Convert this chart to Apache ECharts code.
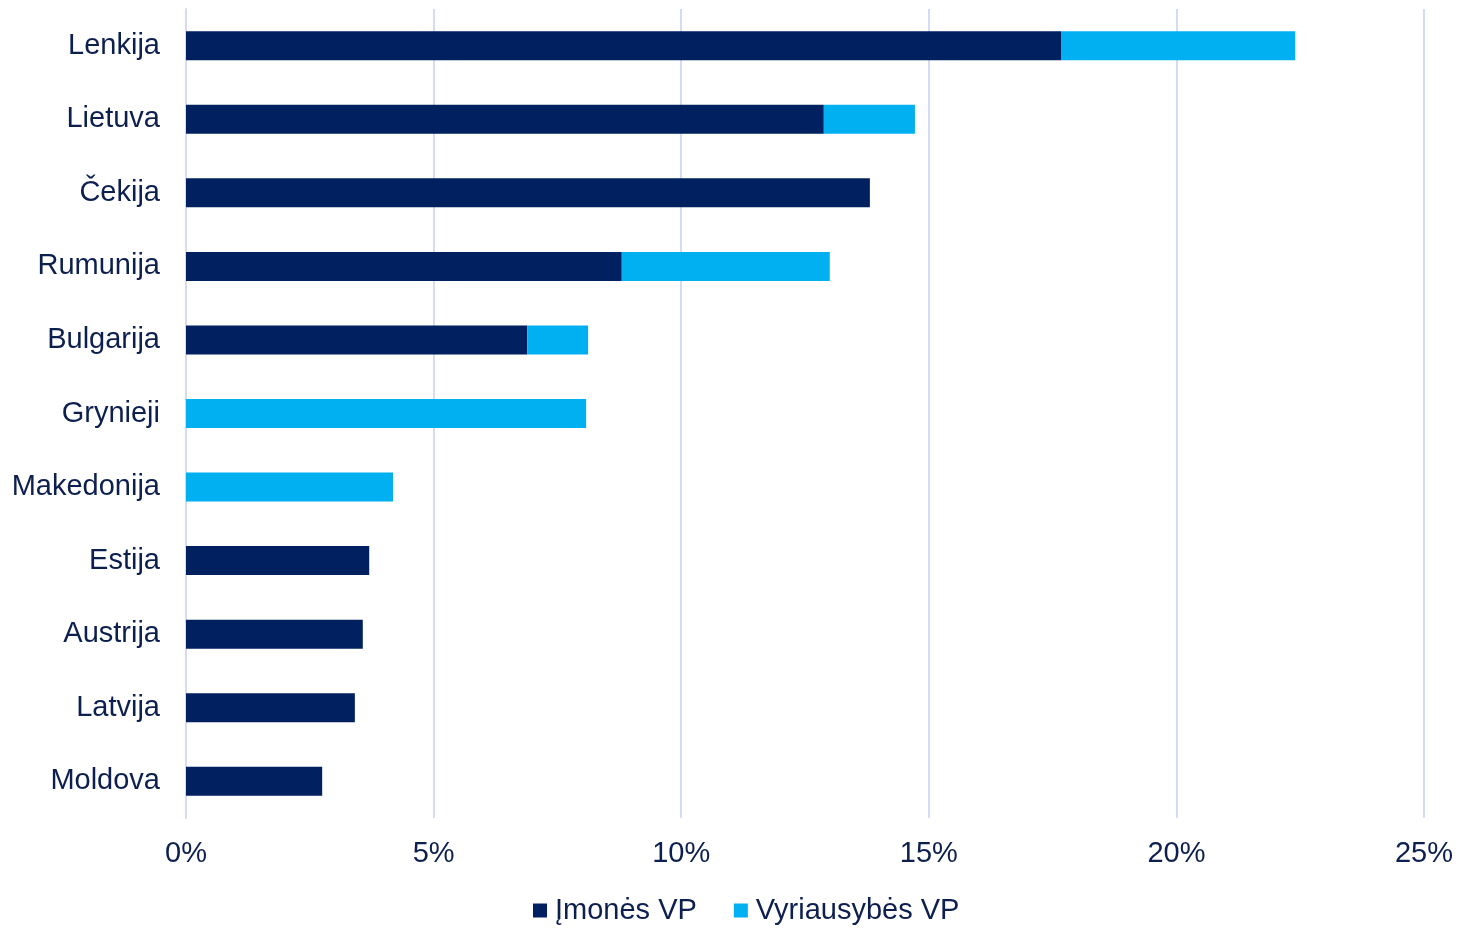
<!DOCTYPE html>
<html>
<head>
<meta charset="utf-8">
<script src="https://cdn.jsdelivr.net/npm/echarts@6/dist/echarts.min.js"></script>
<style>
  html, body { margin: 0; padding: 0; background: #fff; }
  #chart { width: 1461px; height: 930px; }
</style>
</head>
<body>
<div id="chart"></div>
<script>
// šalys (iš viršaus į apačią)
const countries = ['Lenkija', 'Lietuva', 'Čekija', 'Rumunija', 'Bulgarija', 'Grynieji', 'Makedonija', 'Estija', 'Austrija', 'Latvija', 'Moldova'];
// Įmonės VP, %
const corporate = [17.67, 12.88, 13.81, 8.80, 6.89, 0, 0, 3.70, 3.57, 3.41, 2.75];
// Vyriausybės VP, %
const government = [4.73, 1.84, 0, 4.20, 1.23, 8.08, 4.18, 0, 0, 0, 0];
const tickLabels = ['0%', '5%', '10%', '15%', '20%', '25%'];

const textColor = '#0c1f4f';
const gridColor = '#d3dcf4';
const font = 'Liberation Sans, Arial, sans-serif';

const chart = echarts.init(document.getElementById('chart'));
chart.setOption({
  animation: false,
  grid: { left: 186, right: 37, top: 9, bottom: 112, containLabel: false },
  legend: {
    bottom: 0,
    left: 528,
    itemWidth: 14,
    itemHeight: 14,
    itemGap: 37,
    icon: 'rect',
    textStyle: { fontFamily: font, fontSize: 29, color: textColor, padding: [0, 0, 0, 3] },
    data: ['Įmonės VP', 'Vyriausybės VP']
  },
  xAxis: {
    type: 'value',
    min: 0,
    max: 25,
    interval: 5,
    axisLine: { show: false },
    axisTick: { show: false },
    splitLine: { lineStyle: { color: gridColor, width: 2 } },
    axisLabel: {
      margin: 21,
      fontFamily: font,
      fontSize: 29,
      color: textColor,
      formatter: v => tickLabels[v / 5]
    }
  },
  yAxis: {
    type: 'category',
    inverse: true,
    data: countries,
    axisTick: { show: false },
    axisLine: { show: true, lineStyle: { color: gridColor, width: 2 } },
    axisLabel: {
      margin: 26,
      fontFamily: font,
      fontSize: 29,
      color: textColor
    }
  },
  series: [
    {
      name: 'Įmonės VP',
      type: 'bar',
      stack: 'total',
      barWidth: 29,
      itemStyle: { color: '#002060' },
      data: corporate
    },
    {
      name: 'Vyriausybės VP',
      type: 'bar',
      stack: 'total',
      barWidth: 29,
      itemStyle: { color: '#00b0f0' },
      data: government
    }
  ]
});
</script>
</body>
</html>
